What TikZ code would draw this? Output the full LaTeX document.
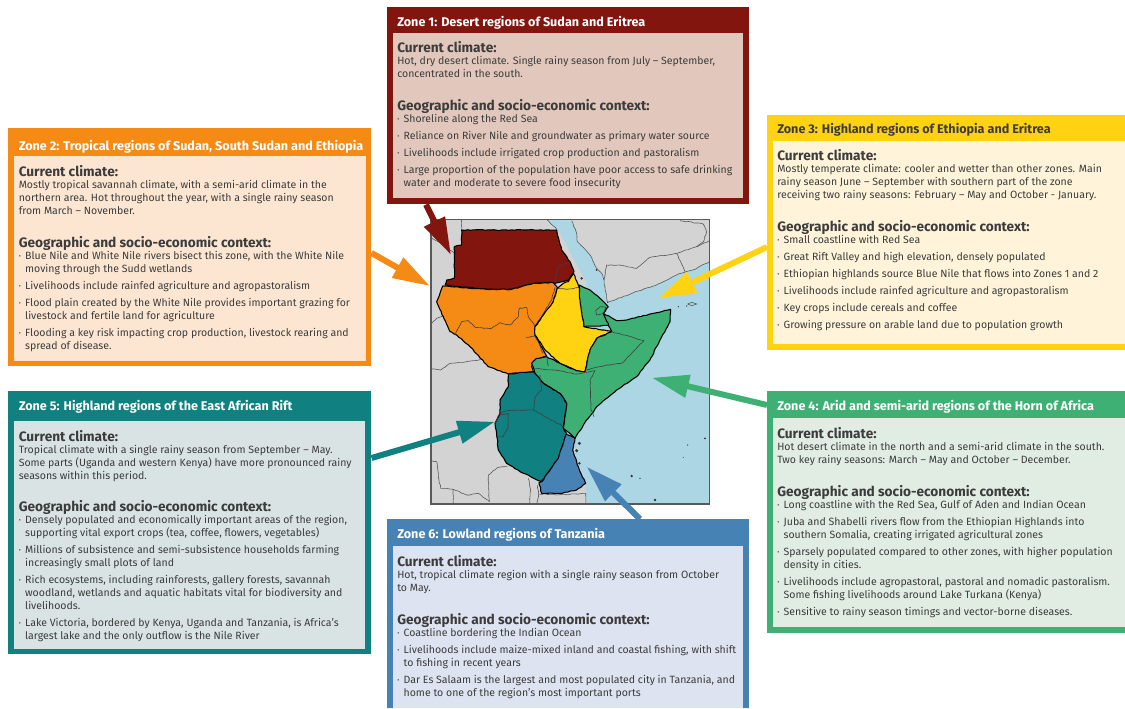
\documentclass[tikz,border=0pt]{standalone}
\usepackage{fontspec}
\setmainfont{Fira Sans}
\usetikzlibrary{arrows.meta,calc,decorations.pathmorphing}
\pgfmathsetseed{7}
\definecolor{cA}{HTML}{82160F}\definecolor{fA}{HTML}{E2C8BC}
\definecolor{cB}{HTML}{F58A14}\definecolor{fB}{HTML}{FCE6D2}
\definecolor{cC}{HTML}{FFD312}\definecolor{fC}{HTML}{FFF4D9}
\definecolor{cD}{HTML}{3EB073}\definecolor{fD}{HTML}{E1EDE3}
\definecolor{cE}{HTML}{108080}\definecolor{fE}{HTML}{D9E3E3}
\definecolor{cF}{HTML}{4682B4}\definecolor{fF}{HTML}{DDE3F0}
\definecolor{sea}{HTML}{ADD6E4}\definecolor{land}{HTML}{D3D3D3}
\definecolor{ink}{HTML}{3C3C3C}
\newcommand\rbox[6]{\node[rectangle,inner sep=0pt,draw=none,anchor=north west,minimum width={(#4-#2)*0.75pt},minimum height={(#5-#3)*0.75pt},#6] (#1) at (#2,#3) {};}
\newcommand\hd[1]{{\bfseries\fontsize{10.25}{9.75}\selectfont #1}}
\newcommand\bu[1]{\makebox[4.8pt][l]{\raisebox{1pt}{\scalebox{.6}{\textbullet}}}#1}
\newcommand\co[1]{\hspace*{4.8pt}#1}
\tikzset{
 wiggle/.style={decorate,decoration={random steps,segment length=2.2pt,amplitude=0.32pt}},
 titletext/.style={anchor=west,inner sep=0pt,font=\bfseries\fontsize{9.45}{9.75}\selectfont,text=white},
 bodytext/.style={anchor=north west,inner sep=0pt,align=left,text=ink,font=\fontsize{7.9}{9.75}\selectfont},
 zarrow/.style={line width=4.5pt,-{Triangle[length=28pt,width=16.5pt]}},
 zone/.style={draw=black,line width=0.8pt,line join=round,wiggle},
 inner/.style={draw=black!75,line width=0.45pt,line join=round,wiggle},
 border/.style={draw=black!65,line width=0.45pt,line join=round,wiggle},
}
\begin{document}
\begin{tikzpicture}[x=0.75pt,y=-0.75pt]
\useasboundingbox (0,0) rectangle (1125,708);
% map
\begin{scope}[shift={(420,200)},x=0.25pt,y=-0.25pt]
\fill[land] (33,58) rectangle (868,912);
\fill[sea] (380,58)--(455,62)--(470,100)--(472,125)--(510,165)--(530,205)--(548,225)--(555,260)--(562,308)--(640,278)--(690,262)--(720,250)--(775,222)--(830,205)--(868,185)--(868,912)--(500,912)--(495,850)--(470,780)--(460,710)--(420,500)--(500,250)--(420,100)--cycle;
% land borders
\draw[border] (380,58)--(410,88);
\draw[border] (455,62)--(470,100)--(472,125)--(510,165)--(530,205)--(548,225)--(555,260)--(562,308)--(640,278)--(690,262)--(720,250)--(775,222)--(830,205)--(868,185);
\draw[border] (125,58)--(125,90);
\draw[border] (33,112)--(60,128)--(103,160);
\draw[border] (33,372)--(50,355)--(72,348);
\draw[border] (33,507)--(62,510)--(90,490)--(130,487)--(160,482)--(182,478);
\draw[border] (33,782)--(50,785)--(55,830)--(62,865)--(100,868)--(140,885)--(175,880)--(208,905);
\draw[border] (100,868)--(100,912);
\draw[border] (208,905)--(205,825)--(232,803)--(262,800);
\draw[border] (325,835)--(332,870)--(328,912);
\draw[border] (352,855)--(356,882)--(350,912);
\draw[border] (356,882)--(420,884)--(497,880)--(498,912);
\draw[border] (780,62)--(850,72)--(860,95)--(850,125)--(830,140)--(770,160)--(690,172)--(650,205)--(600,195)--(560,195)--(552,240);
\draw[border] (770,160)--(795,215);
\draw[border] (830,140)--(868,122);
\draw[draw=black!65,line width=0.45pt] (803,312)--(815,307)--(830,312)--(815,317)--cycle;
\fill[black!80] (775,320) circle (2) (800,318) circle (2) (530,210) circle (3) (485,235) circle (4) (478,730) circle (5) (470,752) circle (5) (478,790) circle (4) (635,828) circle (4) (660,835) circle (2) (855,715) circle (3) (803,735) circle (2) (790,772) circle (1.5) (705,900) circle (4);
% zones
\path[zone,fill=cA] (125,90)--(410,90)--(418,125)--(425,150)--(450,185)--(462,215)--(445,240)--(405,250)--(340,250)--(275,268)--(200,268)--(75,255)--(80,240)--(103,235)--(103,140)--(125,135)--cycle;
\draw[inner] (405,250)--(415,200)--(450,185);
\path[zone,fill=cB] (68,258)--(200,268)--(275,268)--(340,250)--(400,248)--(412,262)--(400,305)--(345,380)--(345,405)--(380,468)--(345,480)--(335,500)--(340,515)--(265,522)--(205,500)--(150,440)--(110,405)--(90,395)--(70,350)--(50,305)--(60,280)--cycle;
\draw[inner] (105,405)--(125,365)--(145,362)--(165,382)--(215,385)--(240,368)--(270,375)--(295,350)--(298,325)--(320,322)--(325,350)--(345,378);
\draw[inner] (345,378)--(370,340)--(395,300)--(405,262);
\draw[inner] (318,412)--(345,408)--(370,460);
\path[zone,fill=cC] (460,220)--(478,262)--(492,380)--(575,395)--(530,415)--(510,450)--(495,515)--(470,512)--(420,490)--(375,450)--(345,405)--(345,380)--(400,305)--(412,265)--(430,250)--(445,245)--cycle;
\draw[inner] (412,265)--(440,268)--(478,262);
\path[zone,fill=cD] (478,255)--(510,270)--(540,295)--(565,320)--(550,340)--(570,375)--(492,380)--(478,290)--cycle;
\path[zone,fill=cD] (550,340)--(590,362)--(620,360)--(700,340)--(752,328)--(750,365)--(720,420)--(690,480)--(650,530)--(590,570)--(530,620)--(490,675)--(465,715)--(430,685)--(440,610)--(420,580)--(370,550)--(345,520)--(335,490)--(350,475)--(380,470)--(420,490)--(470,512)--(495,515)--(510,450)--(530,415)--(575,395)--cycle;
\draw[inner] (575,395)--(672,422)--(605,490)--(560,495)--(500,510);
\draw[inner] (525,512)--(510,540)--(513,630)--(522,650);
\draw[inner] (345,505)--(400,510)--(470,522)--(495,517)--(525,512);
\draw[inner] (540,320)--(558,322)--(550,340)--(530,345)--(528,330)--cycle;
\draw[inner] (380,470)--(385,498);
\path[zone,fill=cE] (265,522)--(340,515)--(370,550)--(420,580)--(440,610)--(430,685)--(440,700)--(415,775)--(365,845)--(300,815)--(260,790)--(235,750)--(230,700)--(225,670)--(240,640)--(240,600)--(265,560)--cycle;
\draw[inner] (240,640)--(262,632)--(340,630)--(430,680);
\draw[inner] (340,630)--(345,590)--(365,570)--(360,525);
\draw[inner] (225,670)--(235,645)--(265,640)--(265,680)--(250,710)--(235,710);
\path[zone,fill=cF] (438,703)--(465,715)--(458,750)--(470,785)--(480,815)--(497,850)--(470,870)--(420,880)--(365,880)--(357,848)--(365,845)--(415,775)--cycle;
\draw[draw=black!65,line width=0.9pt] (33,58) rectangle (868,912);
\coordinate (tA) at (93,165);
\coordinate (tB) at (30,258);
\coordinate (tC) at (715,295);
\coordinate (tD) at (695,533);
\coordinate (tE) at (225,665);
\coordinate (tF) at (500,800);
\end{scope}
% outer boxes
\rbox{zA}{387}{7}{749}{204}{fill=cA}
\rbox{zB}{8}{128}{371}{366}{fill=cB}
\rbox{zC}{767}{115}{1125}{350}{fill=cC}
\rbox{zD}{767}{391}{1125}{633}{fill=cD}
\rbox{zE}{8}{391}{371}{654}{fill=cE}
\rbox{zF}{387}{519}{749}{708}{fill=cF}
% arrows
\draw[zarrow,cA] ($(zA.south west)+(39,0)$) -- (tA);
\draw[zarrow,cB] ($(zB.north east)+(0,125)$) -- (tB);
\draw[zarrow,cC] ($(zC.north west)+(0,132)$) -- (tC);
\draw[zarrow,cD] ($(zD.north west)+(0,14)$) -- (tD);
\draw[zarrow,cE] ($(zE.north east)+(0,67)$) -- (tE);
\draw[zarrow,cF] ($(zF.north west)+(253,0)$) -- (tF);
% inner panels
\rbox{pA}{393}{33}{743}{198}{fill=fA}
\rbox{pB}{14}{156}{366}{361}{fill=fB}
\rbox{pC}{773}{141}{1125}{344}{fill=fC}
\rbox{pD}{773}{418}{1125}{627}{fill=fD}
\rbox{pE}{14}{421}{365}{649}{fill=fE}
\rbox{pF}{393}{546}{743}{708}{fill=fF}
% zone 1
\node[titletext] (tzA) at (397,22.5) {Zone 1: Desert regions of Sudan and Eritrea};
\node[bodytext] (ccA) at (397,41) {\hd{Current climate:}\\[-0.75pt]Hot, dry desert climate. Single rainy season from July – September,\\concentrated in the south.};
\node[bodytext] (geoA) at (397,99) {\hd{Geographic and socio-economic context:}\\[-0.75pt]\bu{Shoreline along the Red Sea}\\[3pt]\bu{Reliance on River Nile and groundwater as primary water source}\\[3pt]\bu{Livelihoods include irrigated crop production and pastoralism}\\[3pt]\bu{Large proportion of the population have poor access to safe drinking}\\\co{water and moderate to severe food insecurity}};
% zone 2
\node[titletext] (tzB) at (18.5,146.5) {Zone 2: Tropical regions of Sudan, South Sudan and Ethiopia};
\node[bodytext] (ccB) at (18.5,165) {\hd{Current climate:}\\[-0.75pt]Mostly tropical savannah climate, with a semi-arid climate in the\\northern area. Hot throughout the year, with a single rainy season\\from March – November.};
\node[bodytext] (geoB) at (18.5,236) {\hd{Geographic and socio-economic context:}\\[-0.75pt]\bu{Blue Nile and White Nile rivers bisect this zone, with the White Nile}\\\co{moving through the Sudd wetlands}\\[3pt]\bu{Livelihoods include rainfed agriculture and agropastoralism}\\[3pt]\bu{Flood plain created by the White Nile provides important grazing for}\\\co{livestock and fertile land for agriculture}\\[3pt]\bu{Flooding a key risk impacting crop production, livestock rearing and}\\\co{spread of disease.}};
% zone 3
\node[titletext,text=ink] (tzC) at (777,129.5) {Zone 3: Highland regions of Ethiopia and Eritrea};
\node[bodytext] (ccC) at (777,149) {\hd{Current climate:}\\[-0.75pt]Mostly temperate climate: cooler and wetter than other zones. Main\\rainy season June – September with southern part of the zone\\receiving two rainy seasons: February – May and October - January.};
\node[bodytext] (geoC) at (777,220) {\hd{Geographic and socio-economic context:}\\[-0.75pt]\bu{Small coastline with Red Sea}\\[3pt]\bu{Great Rift Valley and high elevation, densely populated}\\[3pt]\bu{Ethiopian highlands source Blue Nile that flows into Zones 1 and 2}\\[3pt]\bu{Livelihoods include rainfed agriculture and agropastoralism}\\[3pt]\bu{Key crops include cereals and coffee}\\[3pt]\bu{Growing pressure on arable land due to population growth}};
% zone 4
\node[titletext] (tzD) at (777,406.5) {Zone 4: Arid and semi-arid regions of the Horn of Africa};
\node[bodytext] (ccD) at (777,427) {\hd{Current climate:}\\[-0.75pt]Hot desert climate in the north and a semi-arid climate in the south.\\Two key rainy seasons: March – May and October – December.};
\node[bodytext] (geoD) at (777,485) {\hd{Geographic and socio-economic context:}\\[-0.75pt]\bu{Long coastline with the Red Sea, Gulf of Aden and Indian Ocean}\\[3pt]\bu{Juba and Shabelli rivers flow from the Ethiopian Highlands into}\\\co{southern Somalia, creating irrigated agricultural zones}\\[3pt]\bu{Sparsely populated compared to other zones, with higher population}\\\co{density in cities.}\\[3pt]\bu{Livelihoods include agropastoral, pastoral and nomadic pastoralism.}\\\co{Some fishing livelihoods around Lake Turkana (Kenya)}\\[3pt]\bu{Sensitive to rainy season timings and vector-borne diseases.}};
% zone 5
\node[titletext] (tzE) at (18.5,406.5) {Zone 5: Highland regions of the East African Rift};
\node[bodytext] (ccE) at (18.5,430) {\hd{Current climate:}\\[-0.75pt]Tropical climate with a single rainy season from September – May.\\Some parts (Uganda and western Kenya) have more pronounced rainy\\seasons within this period.};
\node[bodytext] (geoE) at (18.5,500) {\hd{Geographic and socio-economic context:}\\[-0.75pt]\bu{Densely populated and economically important areas of the region,}\\\co{supporting vital export crops (tea, coffee, flowers, vegetables)}\\[3pt]\bu{Millions of subsistence and semi-subsistence households farming}\\\co{increasingly small plots of land}\\[3pt]\bu{Rich ecosystems, including rainforests, gallery forests, savannah}\\\co{woodland, wetlands and aquatic habitats vital for biodiversity and}\\\co{livelihoods.}\\[3pt]\bu{Lake Victoria, bordered by Kenya, Uganda and Tanzania, is Africa’s}\\\co{largest lake and the only outflow is the Nile River}};
% zone 6
\node[titletext] (tzF) at (397,534.5) {Zone 6: Lowland regions of Tanzania};
\node[bodytext] (ccF) at (397,555) {\hd{Current climate:}\\[-0.75pt]Hot, tropical climate region with a single rainy season from October\\to May.};
\node[bodytext] (geoF) at (397,613) {\hd{Geographic and socio-economic context:}\\[-0.75pt]\bu{Coastline bordering the Indian Ocean}\\[3pt]\bu{Livelihoods include maize-mixed inland and coastal fishing, with shift}\\\co{to fishing in recent years}\\[3pt]\bu{Dar Es Salaam is the largest and most populated city in Tanzania, and}\\\co{home to one of the region’s most important ports}};
\end{tikzpicture}
\end{document}
